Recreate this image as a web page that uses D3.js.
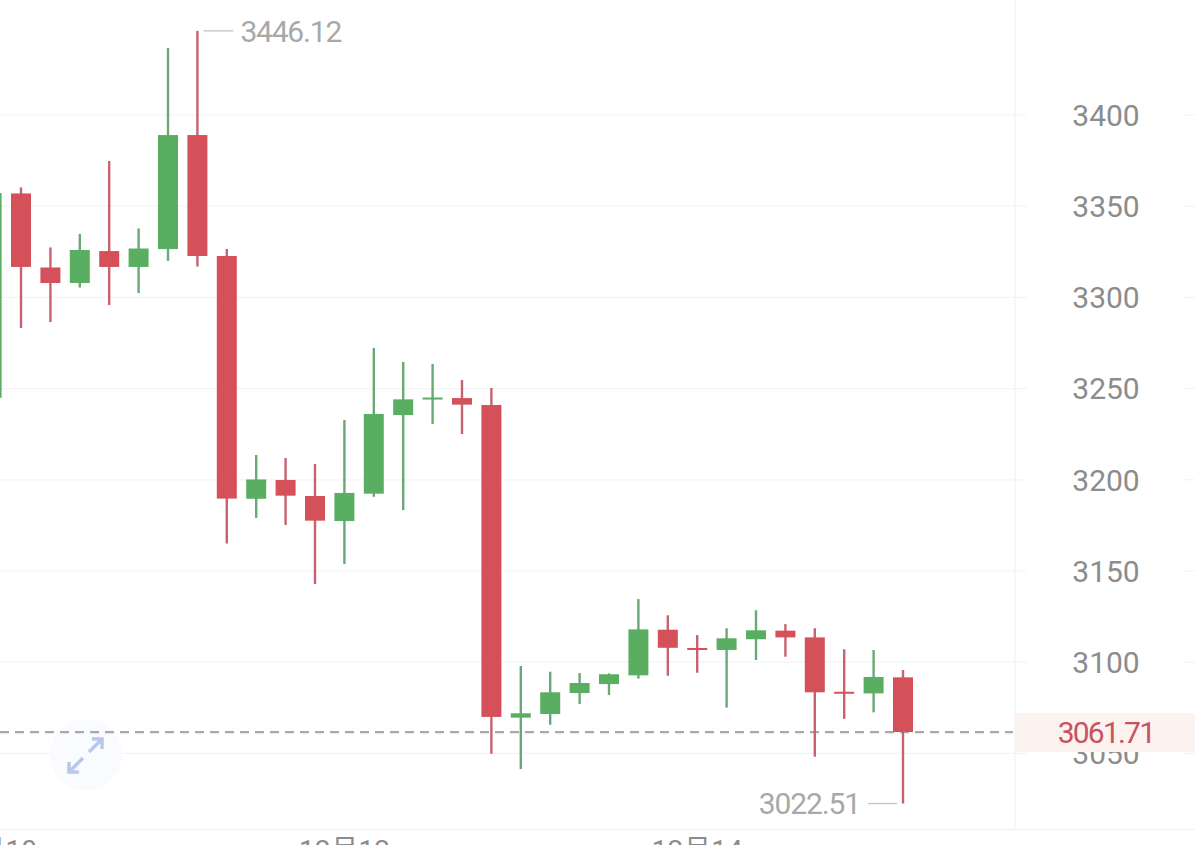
<!DOCTYPE html>
<html>
<head>
<meta charset="utf-8">
<style>
html,body{margin:0;padding:0;background:#fff;overflow:hidden}
svg{display:block}
text{font-family:Roboto,"Noto Sans CJK SC",sans-serif}
</style>
<script src="https://cdn.jsdelivr.net/npm/d3@7"></script>
</head>
<body>
<div id="chart"></div>
<script>
const dates = ["12月10","","","","","","","","","","","","12月12","","","","","","","","","","","","12月14","","","","","","",""];
const opens = [3245,3357,3316.4,3307.9,3325.4,3316.7,3326.5,3389,3322.7,3189.6,3199.9,3191.1,3177.4,3192.4,3235.5,3244.5,3244.8,3241,3069.6,3071.6,3083.1,3088,3092.8,3117.8,3107.8,3106.7,3112.6,3117.3,3113.6,3083.8,3082.9,3091.7];
const closes = [3357.2,3316.7,3307.9,3326,3316.7,3326.8,3389,3322.7,3189.7,3200.2,3191.3,3177.6,3192.8,3236.1,3244.1,3245.1,3241.2,3070,3072,3083.5,3088.6,3093.4,3118,3107.9,3107.1,3113.1,3117.5,3113.6,3083.5,3083.1,3091.9,3061.71];
const highs = [3358,3360.3,3327.4,3334.8,3374.8,3337.8,3436.7,3446.12,3326.5,3213.6,3211.9,3208.7,3232.8,3272.3,3264.6,3263.5,3254.7,3250.3,3097.9,3094.8,3094.1,3093.9,3134.6,3125.7,3114.9,3118.6,3128.5,3120.9,3118.6,3107.1,3106.7,3095.7];
const lows = [3244.8,3283.2,3286.5,3305.4,3295.8,3302.4,3320,3316.9,3165.1,3179.1,3175.2,3142.9,3153.8,3190.7,3183.4,3230.6,3225.1,3049.8,3041.4,3065.7,3077.1,3082,3091,3092.6,3094.2,3075.1,3101.2,3103,3048.2,3068.9,3072.5,3022.51];
const priceTicks = [3050,3100,3150,3200,3250,3300,3350,3400];
const lastPrice = "3061.71";
const highLabel = "3446.12";
const lowLabel = "3022.51";

const W = 1195, H = 845;
const RED = "#d4515a", GREEN = "#5aae62", RED_W = "#c8626f", GREEN_W = "#6aa874";
const svg = d3.select("#chart").append("svg").attr("width", W).attr("height", H);
const x = d3.scaleLinear().domain([0, opens.length - 1]).range([-8.4, 903]);
const y = d3.scaleLinear().domain([3400, 3050]).range([115, 753.4]);

// grid, interrupted behind the price labels
const grid = svg.append("g").attr("stroke", "#f3f4f5").attr("stroke-width", 1.2);
grid.selectAll(".a").data(priceTicks).join("line").attr("x1", 0).attr("x2", 1027).attr("y1", d => y(d)).attr("y2", d => y(d));
grid.selectAll(".b").data(priceTicks).join("line").attr("x1", 1184).attr("x2", W).attr("y1", d => y(d)).attr("y2", d => y(d));

// frame
svg.append("line").attr("x1", 1015).attr("x2", 1015).attr("y1", 0).attr("y2", 830).attr("stroke", "#f3f4f5").attr("stroke-width", 1.5);
svg.append("line").attr("x1", 0).attr("x2", W).attr("y1", 829.5).attr("y2", 829.5).attr("stroke", "#f3f4f5").attr("stroke-width", 1.5);

// price axis labels
svg.append("g").selectAll("text").data(priceTicks).join("text")
  .attr("x", 1106).attr("y", d => y(d)).attr("dy", "0.36em").attr("text-anchor", "middle")
  .attr("font-size", 30).attr("fill", "#8c8c8c").text(d => d);

// date labels, cut by the bottom of the window
svg.append("g").selectAll("text").data(dates.map((d, i) => ({d, i})).filter(o => o.d)).join("text")
  .attr("x", o => x(o.i)).attr("y", 860).attr("text-anchor", "middle")
  .attr("font-size", 28).attr("fill", "#8c8c8c").text(o => o.d);

// expand button
const btn = svg.append("g").attr("transform", "translate(86,755)");
btn.append("circle").attr("r", 36).attr("fill", "#fafbfe");
btn.append("path").attr("d", "M3,-3 L16,-16 M6,-16 L16,-16 L16,-6 M-3,3 L-17,17 M-17,7 L-17,17 L-7,17")
  .attr("fill", "none").attr("stroke", "#b8c8ea").attr("stroke-width", 3.5);

// last price band
svg.append("rect").attr("x", 1015).attr("y", 713).attr("width", 180).attr("height", 39).attr("fill", "#fcf2f0");
svg.append("text").attr("x", 1106).attr("y", y(+lastPrice)).attr("dy", "0.36em").attr("text-anchor", "middle")
  .attr("font-size", 30).attr("letter-spacing", -1.8).attr("fill", "#c9525f").text(lastPrice);

// last price dashed line
svg.append("line").attr("x1", 0).attr("x2", 1013).attr("y1", y(+lastPrice)).attr("y2", y(+lastPrice))
  .attr("stroke", "#a9a9a9").attr("stroke-width", 2.2).attr("stroke-dasharray", "9,6");

// candles
const candles = svg.append("g").selectAll("g").data(opens.map((o, i) => i)).join("g");
candles.append("line")
  .attr("x1", i => x(i)).attr("x2", i => x(i))
  .attr("y1", i => y(highs[i])).attr("y2", i => y(lows[i]))
  .attr("stroke", i => closes[i] >= opens[i] ? GREEN_W : RED_W).attr("stroke-width", 2.4);
candles.append("rect")
  .attr("x", i => x(i) - 10).attr("width", 20)
  .attr("y", i => y(Math.max(opens[i], closes[i])))
  .attr("height", i => Math.max(2, Math.abs(y(opens[i]) - y(closes[i]))))
  .attr("fill", i => closes[i] >= opens[i] ? GREEN : RED);

// extreme labels
const hi = highs.indexOf(d3.max(highs)), lo = lows.indexOf(d3.min(lows));
svg.append("line").attr("x1", x(hi) + 6).attr("x2", x(hi) + 36).attr("y1", y(highs[hi])).attr("y2", y(highs[hi])).attr("stroke", "#c4c4c4").attr("stroke-width", 1.3);
svg.append("text").attr("x", x(hi) + 43).attr("y", y(highs[hi])).attr("dy", "0.36em").attr("font-size", 30).attr("letter-spacing", -1.2).attr("fill", "#a8a8a8").text(highLabel);
svg.append("line").attr("x1", x(lo) - 6).attr("x2", x(lo) - 35).attr("y1", y(lows[lo])).attr("y2", y(lows[lo])).attr("stroke", "#c4c4c4").attr("stroke-width", 1.3);
svg.append("text").attr("x", x(lo) - 43).attr("y", y(lows[lo])).attr("dy", "0.36em").attr("text-anchor", "end").attr("font-size", 30).attr("letter-spacing", -1.1).attr("fill", "#a8a8a8").text(lowLabel);
</script>
</body>
</html>
